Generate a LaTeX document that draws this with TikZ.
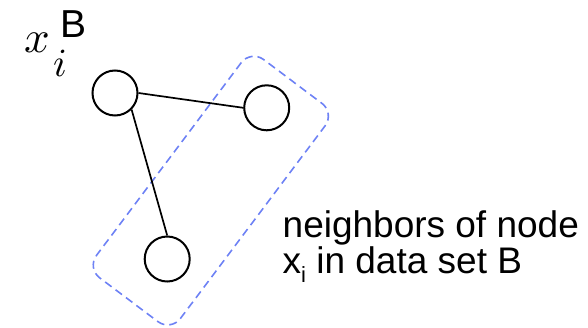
\documentclass[tikz,border=0pt]{standalone}
\usepackage{graphicx}
\usepackage{fontspec}
\setmainfont{Liberation Sans}
\definecolor{dashblue}{RGB}{110,130,245}
\begin{document}
\begin{tikzpicture}[x=1pt,y=1pt,
  circ/.style={circle,draw=black,line width=2pt,minimum size=45pt,inner sep=0pt},
  edge/.style={draw=black,line width=1.7pt},
  grpbox/.style={draw=dashblue,line width=1.6pt,dash pattern=on 8pt off 5pt,rounded corners=16pt,inner sep=0pt,minimum width=273pt,minimum height=105pt}]
\useasboundingbox (0,0) rectangle (588,327);
\node[grpbox,rotate=53.1] (grp) at (210.8,136.4) {};
\node[circ] (A) at (115,234) {};
\node[circ] (B) at (266.7,219.2) {};
\node[circ] (C) at (167.2,68) {};
\draw[edge] (A.east) -- (B.west);
\draw[edge] (A.south east) -- (C.north);
\node[anchor=base west,inner sep=0pt] (xlab) at (24,274) {\scalebox{4.5}{$x$}};
\node[anchor=base west,inner sep=0pt] (ilab) at (53,250) {\scalebox{4.0}{$i$}};
\node[anchor=base west,inner sep=0pt,font=\fontsize{39}{39}\selectfont] (blab) at (60,289) {B};
\node[anchor=base west,inner sep=0pt,align=left,font=\fontsize{37}{36}\selectfont] (txt) at (282.5,54)
  {neighbors of node\\x\raisebox{-9pt}{\fontsize{22}{22}\selectfont i} in data set B};
\end{tikzpicture}
\end{document}
